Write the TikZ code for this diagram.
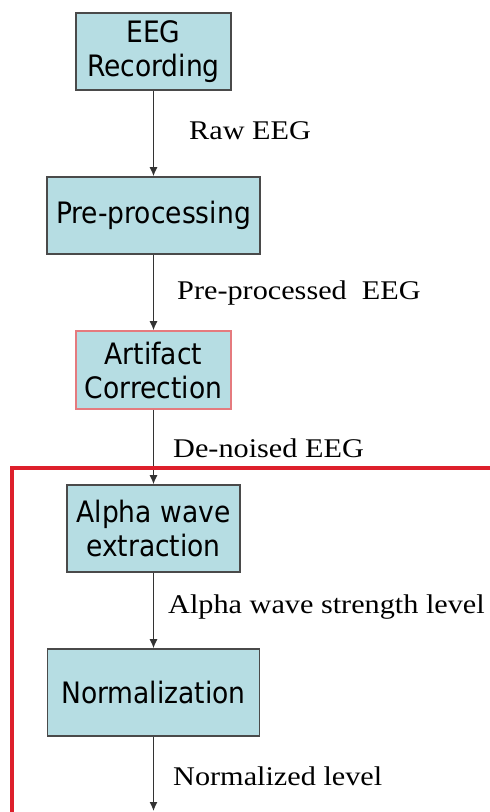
\documentclass[tikz,border=0pt]{standalone}
\usepackage{fontspec}
\usepackage{graphicx}
\setmainfont{Liberation Serif}
\newfontfamily\boxfont{DejaVu Sans Condensed}
\usetikzlibrary{arrows.meta}
\definecolor{boxfill}{HTML}{B6DDE3}
\definecolor{boxline}{HTML}{4A4A4A}
\definecolor{framered}{HTML}{DD1F2B}
\definecolor{softred}{HTML}{E57A7E}
\tikzset{
  stage/.style={draw=boxline, line width=1.6pt, fill=boxfill, align=center,
    inner sep=0pt, font=\boxfont\fontsize{29.5}{34}\selectfont},
  flow/.style={draw=black!80, line width=1.3pt, -{Latex[length=9pt,width=8pt]}},
  tag/.style={anchor=base west, inner sep=0pt, font=\fontsize{27}{32}\selectfont}
}
\newcommand{\wide}[1]{\scalebox{1.12}[1]{#1}}
\begin{document}
\begin{tikzpicture}[x=1pt,y=-1pt]
  \useasboundingbox (0,0) rectangle (490,812);
  \clip (0,0) rectangle (490,812);

  % processing stages
  \node[stage, minimum width=155pt, minimum height=77pt] (rec) at (153.5,51.5) {EEG\\Recording};
  \node[stage, minimum width=213pt, minimum height=77pt] (pre) at (153.5,215.5) {Pre-processing};
  \node[stage, draw=softred, minimum width=155pt, minimum height=78pt] (art) at (153.5,370) {Artifact\\Correction};
  \node[stage, minimum width=173pt, minimum height=87pt] (alp) at (153.5,528.5) {Alpha wave\\extraction};
  \node[stage, minimum width=212pt, minimum height=87pt] (nor) at (153.5,692.5) {Normalization};
  \coordinate (out) at (153.5,811);

  % signal flow
  \draw[flow] (rec) -- (pre);
  \draw[flow] (pre) -- (art);
  \draw[flow] (art) -- (alp);
  \draw[flow] (alp) -- (nor);
  \draw[flow] (nor.south) -- (out);

  % signal names
  \node[tag] (t1) at (189,139) {\wide{Raw EEG}};
  \node[tag] (t2) at (177,299) {\wide{Pre-processed\ \ EEG}};
  \node[tag] (t3) at (173,457) {\wide{De-noised EEG}};
  \node[tag] (t4) at (168,613) {\wide{Alpha wave strength level}};
  \node[tag] (t5) at (173,785) {\wide{Normalized level}};

  % feature extraction block outline
  \draw[framered, line width=3.4pt] (500,468) -- (12,468) -- (12,820);
\end{tikzpicture}
\end{document}
